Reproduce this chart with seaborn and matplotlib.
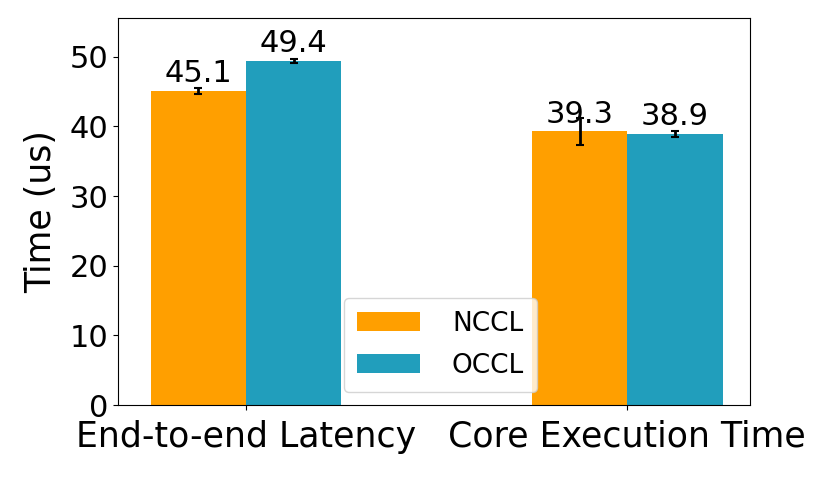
import matplotlib
matplotlib.use("Agg")
import matplotlib.pyplot as plt
import seaborn as sns
import pandas as pd

# data
metrics = ["End-to-end Latency", "Core Execution Time"]
libs = ["NCCL", "OCCL"]
nccl_time = [45.1, 39.3]
occl_time = [49.4, 38.9]
nccl_err = [0.4, 1.9]
occl_err = [0.3, 0.4]

colors = ["#FF9F00", "#219EBC"]

df = pd.DataFrame({
    "metric": metrics * 2,
    "lib": ["NCCL"] * 2 + ["OCCL"] * 2,
    "time": nccl_time + occl_time,
    "err": nccl_err + occl_err,
})

sns.set_style("ticks", rc={"text.color": "black", "axes.labelcolor": "black",
                           "xtick.color": "black", "ytick.color": "black",
                           "axes.edgecolor": "black"})
plt.rcParams["font.family"] = ["DejaVu Sans"]

fig, ax = plt.subplots(figsize=(8.31, 4.8), dpi=100)
sns.barplot(data=df, x="metric", y="time", hue="lib", hue_order=libs,
            palette=colors, saturation=1, width=0.5, errorbar=None, ax=ax,
            linewidth=0)

# error bars + labels on top of each bar
for cont, lib in zip(ax.containers, libs):
    sub = df[df["lib"] == lib]
    xs = [p.get_x() + p.get_width() / 2 for p in cont.patches]
    ax.errorbar(xs, sub["time"].values, yerr=sub["err"].values, fmt="none",
                ecolor="black", elinewidth=2, capsize=3, capthick=1.5)
    ax.bar_label(cont, labels=[f"{v:.1f}" for v in sub["time"]],
                 fontsize=22, padding=2)

ax.set_xlim(-0.336, 1.323)
ax.set_ylim(0, 55.6)
ax.set_xlabel("")
ax.set_ylabel("Time (us)", fontsize=25, labelpad=8)
ax.tick_params(axis="y", labelsize=22)
ax.tick_params(axis="x", labelsize=25, pad=7)
for s in ax.spines.values():
    s.set_visible(True)

ax.legend(loc="lower center", fontsize=19, handlelength=2.4,
          borderpad=0.5, labelspacing=0.6, handletextpad=1.2,
          bbox_to_anchor=(0.51, 0.0))

fig.subplots_adjust(left=0.142, right=0.903, top=0.963, bottom=0.156)
fig.savefig("out.png", dpi=100)
